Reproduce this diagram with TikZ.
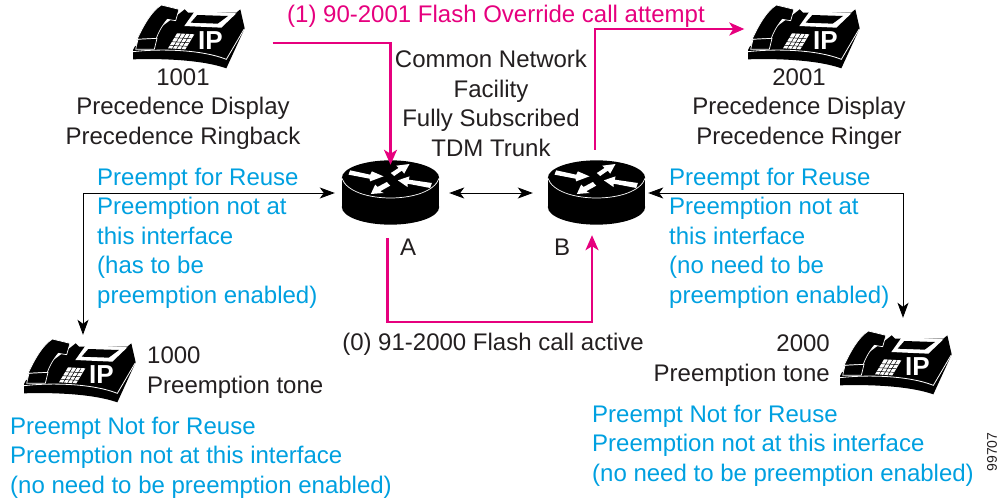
\documentclass[tikz,border=0pt]{standalone}
\usepackage{fontspec}
\setmainfont{Liberation Sans}
\usetikzlibrary{arrows.meta}
\definecolor{callpink}{HTML}{E6007E}
\definecolor{noteblue}{HTML}{00A0E0}
\definecolor{inkgrey}{HTML}{231F20}
\tikzset{
  txt/.style={inner sep=0, text=inkgrey, font=\fontsize{24}{29.4}\selectfont, align=center},
  note/.style={txt, text=noteblue, align=left, anchor=north west},
  callline/.style={draw=callpink, line width=2.4, -{Stealth[length=15,width=13,inset=4]}},
  wire/.style={draw=black, line width=0.9, {Stealth[length=15,width=11,inset=4]}-{Stealth[length=15,width=11,inset=4]}},
  phonebox/.style={inner sep=0, minimum width=113, minimum height=64},
  routerbox/.style={inner sep=0, minimum width=97, minimum height=64},
  pics/ipphone/.style={code={
    \begin{scope}[scale=1/3, shift={(-208,-108)}]
    \fill[black] (40,150) -- (45,140) -- (180,40) -- (195,28) -- (205,38) -- (350,38) -- (362,28) -- (375,85)
      -- (320,205) .. controls (250,180) and (130,175) .. (40,178) -- cycle;
    \fill[white] (226,33) -- (350,40) -- (305,83) -- (194,78) -- cycle;
    \fill[black] (233,45) -- (325,48) -- (294,71) -- (213,68) -- cycle;
    \draw[white, line width=0.8] (40,155) .. controls (130,145) and (250,150) .. (320,178) -- (373,88);
    \fill[white] (172,100) -- (224,103) -- (197,148) -- (145,145) -- cycle;
    \draw[black, line width=0.5] (163,113) -- (215,116) (155,125) -- (208,128) (149,136) -- (202,139)
      (185,101) -- (158,146) (198,102) -- (171,147) (211,103) -- (184,147);
    \draw[white, line width=0.7, fill=black] (50,122) .. controls (75,70) and (95,35) .. (125,15)
      -- (178,28) -- (168,62) -- (143,58) .. controls (125,80) and (115,100) .. (110,115) -- (55,118) -- cycle;
    \draw[white, line width=0.7, fill=black] (55,118) -- (112,115) -- (104,148) -- (48,148) -- cycle;
    \node[inner sep=0, text=white, font=\fontsize{26}{26}\bfseries\selectfont] at (272,123) {IP};
    \end{scope}
  }},
  pics/router/.style={code={
    \begin{scope}[scale=1/3, shift={(-181,-130)}]
    \fill[black] (35,85) rectangle (327,172);
    \fill[black] (181,85) ellipse [x radius=146, y radius=53];
    \fill[black] (181,172) ellipse [x radius=146, y radius=53];
    \draw[white, line width=0.7] (35,85) .. controls (60,165) and (302,165) .. (327,85);
    \fill[white] (55,75) -- (60,62) -- (120,75) -- (125,65) -- (160,80) -- (120,95) -- (118,87) -- cycle;
    \fill[white] (182,70) -- (205,55) -- (198,48) -- (238,43) -- (222,72) -- (215,63) -- (192,79) -- cycle;
    \fill[white] (203,92) -- (238,80) -- (236,90) -- (305,100) -- (300,115) -- (232,102) -- (232,112) -- cycle;
    \fill[white] (122,133) -- (135,105) -- (142,112) -- (170,97) -- (180,108) -- (150,125) -- (160,130) -- cycle;
    \end{scope}
  }},
}
\begin{document}
\begin{tikzpicture}[x=1pt, y=-1pt]
\useasboundingbox (0,0) rectangle (1006,500);
\node[phonebox] (p1001) at (189,36) {};
\node[phonebox] (p2001) at (804,36) {};
\node[phonebox] (p1000) at (80,370) {};
\node[phonebox] (p2000) at (896,362) {};
\node[routerbox] (ra) at (390.5,193) {};
\node[routerbox] (rb) at (596.5,193) {};
\pic at (p1001) {ipphone};
\pic at (p2001) {ipphone};
\pic at (p1000) {ipphone};
\pic at (p2000) {ipphone};
\pic at (ra) {router};
\pic at (rb) {router};
\node[txt, text=callpink] (lblover) at (496,16) {(1) 90-2001 Flash Override call attempt};
\node[txt] (lbltrunk) at (491,103.5) {Common Network\\Facility\\Fully Subscribed\\TDM Trunk};
\node[txt] (lbl1001) at (183,109) {1001\\Precedence Display\\Precedence Ringback};
\node[txt] (lbl2001) at (799,109) {2001\\Precedence Display\\Precedence Ringer};
\node[note] (lblleft) at (97,168) {Preempt for Reuse\\Preemption not at\\this interface\\(has to be\\preemption enabled)};
\node[note] (lblright) at (669,168) {Preempt for Reuse\\Preemption not at\\this interface\\(no need to be\\preemption enabled)};
\node[txt] (lbla) at (408,247) {A};
\node[txt] (lblb) at (562,247) {B};
\node[txt] (lblactive) at (493,344) {(0) 91-2000 Flash call active};
\node[txt, align=left, anchor=north west] (lbl1000) at (147,347) {1000\\Preemption tone};
\node[txt, align=right, anchor=north east] (lbl2000) at (830,335) {2000\\Preemption tone};
\node[note] (lblbl) at (10,417) {Preempt Not for Reuse\\Preemption not at this interface\\(no need to be preemption enabled)};
\node[note] (lblbr) at (592,405) {Preempt Not for Reuse\\Preemption not at this interface\\(no need to be preemption enabled)};
\node[inner sep=0, rotate=90, text=inkgrey, font=\fontsize{14}{14}\selectfont] (lblfig) at (992,452) {99707};
\draw[callline] ([shift={(27,7)}]p1001.east) -| ([yshift=-4]ra.north);
\draw[callline] ([shift={(-1.5,-11)}]rb.north) |- ([xshift=-3,yshift=7]p2001.west);
\draw[callline] ([shift={(-3,13)}]ra.south) -- ++(0,84) -| ([shift={(-4.5,10)}]rb.south);
\draw[wire] ([xshift=10]ra.east) -- ([xshift=-15]rb.west);
\draw[wire] ([xshift=-7]ra.west) -| ([shift={(3,-3)}]p1000.north);
\draw[wire] ([xshift=3]rb.east) -| ([shift={(7,-12)}]p2000.north);
\end{tikzpicture}
\end{document}
